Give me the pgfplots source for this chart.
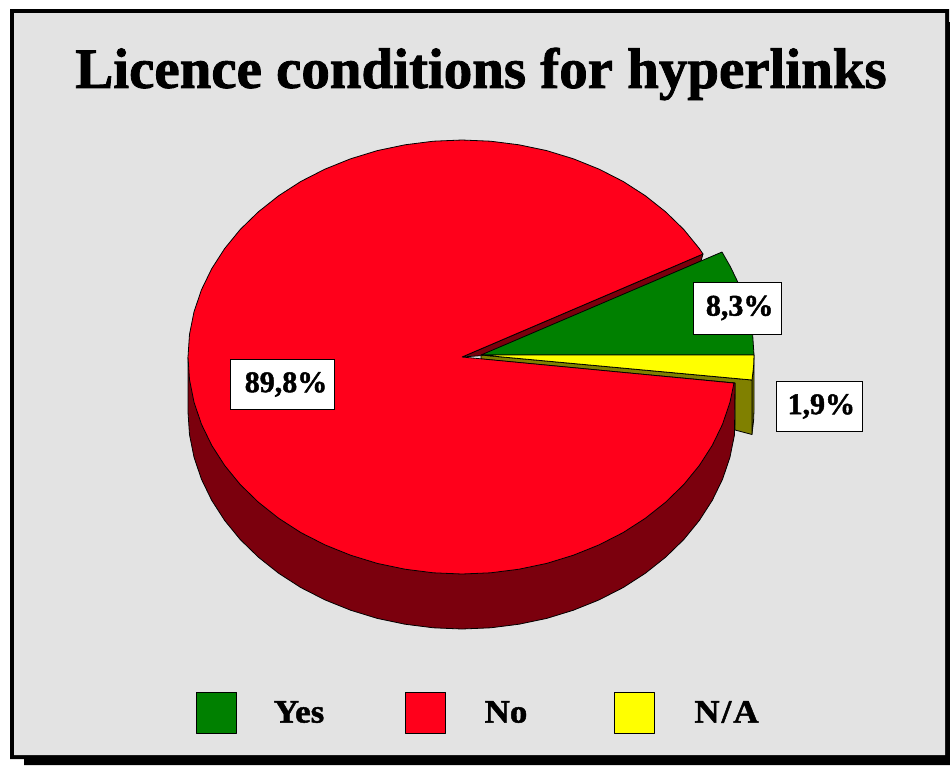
\documentclass[border=0pt]{standalone}
\usepackage{pgfplots}
\pgfplotsset{compat=1.18}
\usepackage{fontspec}
\setmainfont{Liberation Serif}
\newfontface\heavy{Liberation Serif Bold}[FakeBold=1.5]
\newfontface\heavywide{Liberation Serif Bold}[FakeBold=1.5,FakeStretch=1.07]
\definecolor{bgc}{RGB}{227,227,227}
\definecolor{cred}{RGB}{255,0,27}
\definecolor{dred}{RGB}{123,0,13}
\definecolor{cgreen}{RGB}{0,128,0}
\definecolor{cyel}{RGB}{255,255,0}
\definecolor{colive}{RGB}{128,128,0}
\begin{document}
\begin{tikzpicture}
\begin{axis}[
  scale only axis, width=712.5pt, height=573.75pt,
  xmin=0, xmax=950, ymin=0, ymax=765, y dir=reverse,
  hide axis, clip=true,
  every axis plot/.style={line join=round, line width=0.6pt},
]
% page
\addplot[fill=white, draw=none, forget plot] coordinates {(0,0)(950,0)(950,765)(0,765)(0,0)};
% frame and shadow
\addplot[fill=black, draw=none, forget plot] coordinates {(24,22)(950,22)(950,765)(24,765)(24,22)};
\addplot[fill=black, draw=none, forget plot] coordinates {(10,9)(949,9)(949,759)(10,759)(10,9)};
\addplot[fill=bgc, draw=none, forget plot] coordinates {(14,13)(945,13)(945,755)(14,755)(14,13)};
% N/A outer wall and cut face
\addplot[fill=colive, draw=black, forget plot] coordinates {(754,355)(753.6,366.4)(752,380)(752,434)(753.6,420.4)(754,410)(754,355)};
\addplot[fill=colive, draw=black, forget plot] coordinates {(481,355)(752,380)(752,434.5)(735,430)(735,383)(481,359)(481,355)};
% No: wall
\addplot[fill=dred, draw=black, forget plot] coordinates {(188,357)(188,412)(189.5,434.7)(194,457.1)(201.4,479.1)(211.7,500.3)(224.7,520.5)(240.3,539.6)(258.4,557.2)(278.7,573.3)(300.9,587.6)(325,599.9)(350.6,610.2)(377.3,618.4)(405,624.2)(433.4,627.8)(462,629)(490.6,627.8)(519,624.2)(546.7,618.4)(573.4,610.2)(599,599.9)(623.1,587.6)(645.3,573.3)(665.6,557.2)(683.7,539.6)(699.3,520.5)(712.3,500.3)(722.6,479.1)(730,457.1)(734.5,434.7)(735,383)(188,357)};
% No: cut face above the Yes slice
\addplot[fill=dred, draw=black, forget plot] coordinates {(462,357)(703,254)(701,261)(490,355)(462,357)};
% No: top
\addplot[fill=cred, draw=black, forget plot] coordinates {(462,357)(703,254)(699.3,248.5)(683.7,229.4)(665.6,211.8)(645.3,195.7)(623.1,181.4)(599,169.1)(573.4,158.8)(546.7,150.6)(519,144.8)(490.6,141.2)(462,140)(433.4,141.2)(405,144.8)(377.3,150.6)(350.6,158.8)(325,169.1)(300.9,181.4)(278.7,195.7)(258.4,211.8)(240.3,229.4)(224.7,248.5)(211.7,268.7)(201.4,289.9)(194,311.9)(189.5,334.3)(188,357)(189.5,379.7)(194,402.1)(201.4,424.1)(211.7,445.3)(224.7,465.5)(240.3,484.6)(258.4,502.2)(278.7,518.3)(300.9,532.6)(325,544.9)(350.6,555.2)(377.3,563.4)(405,569.2)(433.4,572.8)(462,574)(490.6,572.8)(519,569.2)(546.7,563.4)(573.4,555.2)(599,544.9)(623.1,532.6)(645.3,518.3)(665.6,502.2)(683.7,484.6)(699.3,465.5)(712.3,445.3)(722.6,424.1)(730,402.1)(734,383)(462,357)};
% Yes: top
\addplot[fill=cgreen, draw=black, forget plot] coordinates {(481,355)(722,252)(730.4,266.7)(740.6,287.9)(748,309.9)(752.5,332.3)(754,355)(481,355)};
% N/A: top
\addplot[fill=cyel, draw=black, forget plot] coordinates {(481,355)(754,355)(753.6,366.4)(752,380)(481,355)};
% legend keys
\addplot[fill=cgreen, draw=black, forget plot] coordinates {(196,692)(236.5,692)(236.5,733)(196,733)(196,692)};
\addplot[fill=cred, draw=black, forget plot] coordinates {(405,692)(445.5,692)(445.5,733)(405,733)(405,692)};
\addplot[fill=cyel, draw=black, forget plot] coordinates {(614,692)(654.5,692)(654.5,733)(614,733)(614,692)};
% texts
\node[font=\heavy\fontsize{42.7}{46}\selectfont, anchor=center] at (axis cs:481,74) {Licence conditions for hyperlinks};
\node[font=\heavywide\fontsize{24.5}{26}\selectfont, anchor=center] at (axis cs:299,712) {Yes};
\node[font=\heavywide\fontsize{24.5}{26}\selectfont, anchor=center] at (axis cs:506,712) {No};
\node[font=\heavywide\fontsize{24.5}{26}\selectfont, anchor=center] at (axis cs:726.5,712) {N\kern1.5pt/\kern1.5pt A};
\tikzset{lab/.style={fill=white, draw=black, line width=0.6pt, inner sep=0pt, font=\heavy\fontsize{22.5}{24}\selectfont, anchor=center}}
\node[lab, minimum width=78pt, minimum height=38pt] at (axis cs:282.7,384.5) {\hspace*{5pt}\raisebox{-1.5pt}{89,8\%}};
\node[lab, minimum width=66pt, minimum height=39pt] at (axis cs:737,308) {\hspace*{4pt}\raisebox{-1.5pt}{8,3\%}};
\node[lab, minimum width=64.5pt, minimum height=38pt] at (axis cs:819,406.5) {\hspace*{3.5pt}\raisebox{-1.5pt}{1,9\%}};
\end{axis}
\end{tikzpicture}
\end{document}
